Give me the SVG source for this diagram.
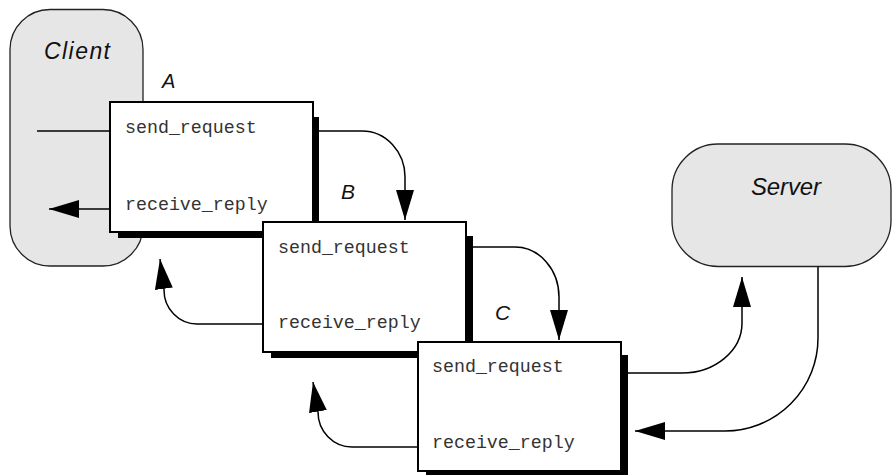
<svg xmlns="http://www.w3.org/2000/svg" width="892" height="475" viewBox="0 0 892 475">
<style>
.term{fill:#e6e6e6;stroke:#222;stroke-width:1.3}
.box{fill:#fff;stroke:#000;stroke-width:2}
.shadow{fill:#000}
.lbl{font-family:"Liberation Sans",Arial,sans-serif;font-style:italic;fill:#111}
.code{font-family:"Liberation Mono","Courier New",monospace;font-size:18.3px;fill:#333}
.conn{fill:none;stroke:#000;stroke-width:1.5}
</style>
<defs>
<marker id="ah" markerUnits="userSpaceOnUse" markerWidth="30" markerHeight="18" viewBox="0 0 30 18" refX="30" refY="9" orient="auto">
<path d="M0,0 L30,9 L0,18 z" fill="#000"/>
</marker>
</defs>
<rect width="892" height="475" fill="#fff"/>
<g id="client">
<rect class="term" x="10" y="9.5" width="133" height="256.5" rx="40" ry="40"/>
<text class="lbl" x="44" y="59" font-size="23" textLength="66" lengthAdjust="spacing">Client</text>
</g>
<g id="server">
<rect class="term" x="672" y="144" width="219" height="122.5" rx="46" ry="46"/>
<text class="lbl" x="751" y="195" font-size="24" textLength="70" lengthAdjust="spacing">Server</text>
</g>
<g id="connectors">
<path class="conn" d="M37,131 H109"/>
<path class="conn" d="M109,209 H49" marker-end="url(#ah)"/>
<path class="conn" d="M319,131 H362 A43,46 0 0 1 405,177 V220" marker-end="url(#ah)"/>
<path class="conn" d="M472,247 H515 A44,50 0 0 1 559,297 V340" marker-end="url(#ah)"/>
<path class="conn" d="M627,373 H682 A60,50 0 0 0 742,323 V277" marker-end="url(#ah)"/>
<path class="conn" d="M818,267 V338 A93,93 0 0 1 725,431 H635" marker-end="url(#ah)"/>
<path class="conn" d="M262,324 H197 A33,34 0 0 1 164,290 L160,259" marker-end="url(#ah)"/>
<path class="conn" d="M417,447 H352 A34,35 0 0 1 318,412 L313,382" marker-end="url(#ah)"/>
</g>
<g id="boxA">
<rect class="shadow" x="118" y="117" width="201" height="121"/>
<rect class="box" x="110" y="102" width="203" height="130"/>
<text class="code" x="125" y="132.5">send_request</text>
<text class="code" x="125" y="210">receive_reply</text>
<text class="lbl" x="162" y="88" font-size="20">A</text>
</g>
<g id="boxB">
<rect class="shadow" x="271" y="236" width="202" height="122"/>
<rect class="box" x="263" y="222" width="203" height="130"/>
<text class="code" x="278" y="252.5">send_request</text>
<text class="code" x="278" y="328">receive_reply</text>
<text class="lbl" x="341" y="199" font-size="21">B</text>
</g>
<g id="boxC">
<rect class="shadow" x="426" y="355" width="202" height="122"/>
<rect class="box" x="418" y="342" width="203" height="129"/>
<text class="code" x="432" y="372">send_request</text>
<text class="code" x="432" y="448">receive_reply</text>
<text class="lbl" x="495" y="320" font-size="21">C</text>
</g>
</svg>
